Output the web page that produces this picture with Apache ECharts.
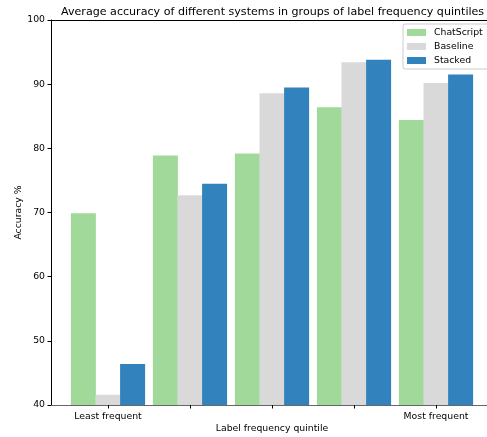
<!DOCTYPE html>
<html>
<head>
<meta charset="utf-8">
<script src="https://cdn.jsdelivr.net/npm/echarts@6/dist/echarts.min.js"></script>
<style>
  html, body { margin: 0; padding: 0; background: #fff; }
  #chart { width: 487px; height: 437px; }
</style>
</head>
<body>
<div id="chart"></div>
<script>
// Quintile groups, left to right
const quintiles = ['Least frequent', '', '', '', 'Most frequent'];
const seriesNames = ['ChatScript', 'Baseline', 'Stacked'];
// Average accuracy (%) per quintile
const chatScript = [69.9, 78.9, 79.2, 86.4, 84.4];
const baseline   = [41.6, 72.7, 88.6, 93.4, 90.2];
const stacked    = [46.4, 74.5, 89.5, 93.8, 91.5];
const yTicks = [40, 50, 60, 70, 80, 90, 100];

const colors = ['#a1d99b', '#d9d9d9', '#3182bd'];
const font = 'DejaVu Sans';
const tickFont = 9.3;

// Bars sit at group index ± bar width, three bars per group
const barW = 0.3;
const xMin = -0.695, xMax = 4.695;
const gridLeft = 51, gridRight = -6;
const plotWidth = 487 - gridLeft - gridRight;
const barPx = barW * plotWidth / (xMax - xMin);

const allValues = [chatScript, baseline, stacked];
const series = allValues.map((vals, s) => ({
  name: seriesNames[s],
  type: 'bar',
  barWidth: barPx + 0.4,
  barGap: '-100%',
  itemStyle: { color: colors[s] },
  data: vals.map((v, i) => [i + (s - 1) * barW, v])
}));

const chart = echarts.init(document.getElementById('chart'), null, { renderer: 'canvas' });
chart.setOption({
  animation: false,
  textStyle: { fontFamily: font },
  title: {
    text: 'Average accuracy of different systems in groups of label frequency quintiles',
    left: 56, top: 2,
    textStyle: { fontFamily: font, fontSize: 11.1, fontWeight: 'normal', color: '#000' }
  },
  legend: {
    orient: 'vertical',
    left: 403, top: 24,
    itemWidth: 19, itemHeight: 7, itemGap: 5,
    padding: [4, 10, 4, 4],
    borderColor: '#ccc', borderWidth: 1, borderRadius: 2,
    backgroundColor: 'rgba(255,255,255,0.8)',
    icon: 'rect',
    textStyle: { fontFamily: font, fontSize: tickFont, color: '#000', padding: [0, 0, 0, 3] },
    data: seriesNames
  },
  grid: {
    left: gridLeft, right: gridRight, top: 20, bottom: 32,
    containLabel: false, outerBoundsMode: 'none'
  },
  xAxis: {
    type: 'value',
    min: xMin, max: xMax,
    name: 'Label frequency quintile',
    nameLocation: 'middle', nameGap: 19, nameMoveOverlap: false,
    nameTextStyle: { fontFamily: font, fontSize: tickFont, color: '#000' },
    splitLine: { show: false },
    axisLine: { show: true, onZero: false, lineStyle: { color: '#666', width: 1 } },
    axisTick: { show: true, length: 3.5, lineStyle: { color: '#000' }, customValues: [0, 1, 2, 3, 4] },
    axisLabel: {
      customValues: [0, 4], margin: 7,
      fontFamily: font, fontSize: tickFont, color: '#000',
      formatter: v => quintiles[Math.round(v)]
    }
  },
  yAxis: {
    type: 'value',
    min: yTicks[0], max: yTicks[yTicks.length - 1], interval: 10,
    name: 'Accuracy %',
    nameLocation: 'middle', nameGap: 28, nameRotate: 90, nameMoveOverlap: false,
    nameTextStyle: { fontFamily: font, fontSize: tickFont, color: '#000' },
    splitLine: { show: false },
    axisLine: { show: true, onZero: false, lineStyle: { color: '#000', width: 1 } },
    axisTick: { show: true, length: 3.5, lineStyle: { color: '#000' } },
    axisLabel: { margin: 6, fontFamily: font, fontSize: tickFont, color: '#000' }
  },
  series: series.concat([{
    // top spine
    type: 'line', data: [], markLine: {
      silent: true, symbol: 'none', label: { show: false },
      lineStyle: { color: '#000', type: 'solid', width: 1 },
      data: [{ yAxis: 100 }]
    }
  }])
});
</script>
</body>
</html>
